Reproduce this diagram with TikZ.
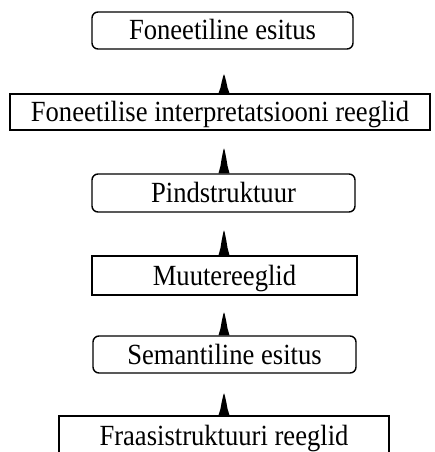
\documentclass[tikz,border=0pt]{standalone}
\usepackage{graphicx}
\usepackage{fontspec}
\setmainfont{Liberation Serif}
\begin{document}
\begin{tikzpicture}[x=1pt,y=-1pt,
  box/.style={draw, line width=1.4pt, inner sep=0pt, text height=22pt, text depth=3pt,
    font=\fontsize{26.6}{28}\selectfont, anchor=center},
  rbox/.style={box, rounded corners=6pt},
  spikefill/.style={fill=black}]
\clip (0,0) rectangle (435,452);
\fill[white] (0,0) rectangle (435,452);
\newcommand\tallt[1]{\scalebox{1}[1.1]{#1}}
\node[rbox, minimum width=261pt, minimum height=37pt] (b1) at (222.5,30.5) {\tallt{Foneetiline esitus}};
\node[box,  minimum width=420pt, minimum height=36pt] (b2) at (220,112) {\tallt{Foneetilise interpretatsiooni reeglid}};
\node[rbox, minimum width=263pt, minimum height=38pt] (b3) at (223.5,193) {\tallt{Pindstruktuur}};
\node[box,  minimum width=265pt, minimum height=39pt] (b4) at (224.5,275.5) {\tallt{Muutereeglid}};
\node[rbox, minimum width=263pt, minimum height=37pt] (b5) at (224.5,354.5) {\tallt{Semantiline esitus}};
\node[box,  minimum width=330pt, minimum height=40pt] (b6) at (224,436) {\tallt{Fraasistruktuuri reeglid}};
\newcommand\upspike[2]{%
  \fill[spikefill] (224,0 |- #1.north) ++(-5.5,0) -- ++(2,-0.3*#2) -- ++(1.2,-0.3*#2) -- ++(1.5,-0.3*#2) -- ++(0.8,-0.1*#2)
    -- ++(0.8,0.1*#2) -- ++(1.5,0.3*#2) -- ++(1.2,0.3*#2) -- ++(2,0.3*#2) -- cycle;}
\upspike{b2}{19}
\upspike{b3}{25}
\upspike{b4}{25}
\upspike{b5}{23}
\upspike{b6}{22}
\end{tikzpicture}
\end{document}
